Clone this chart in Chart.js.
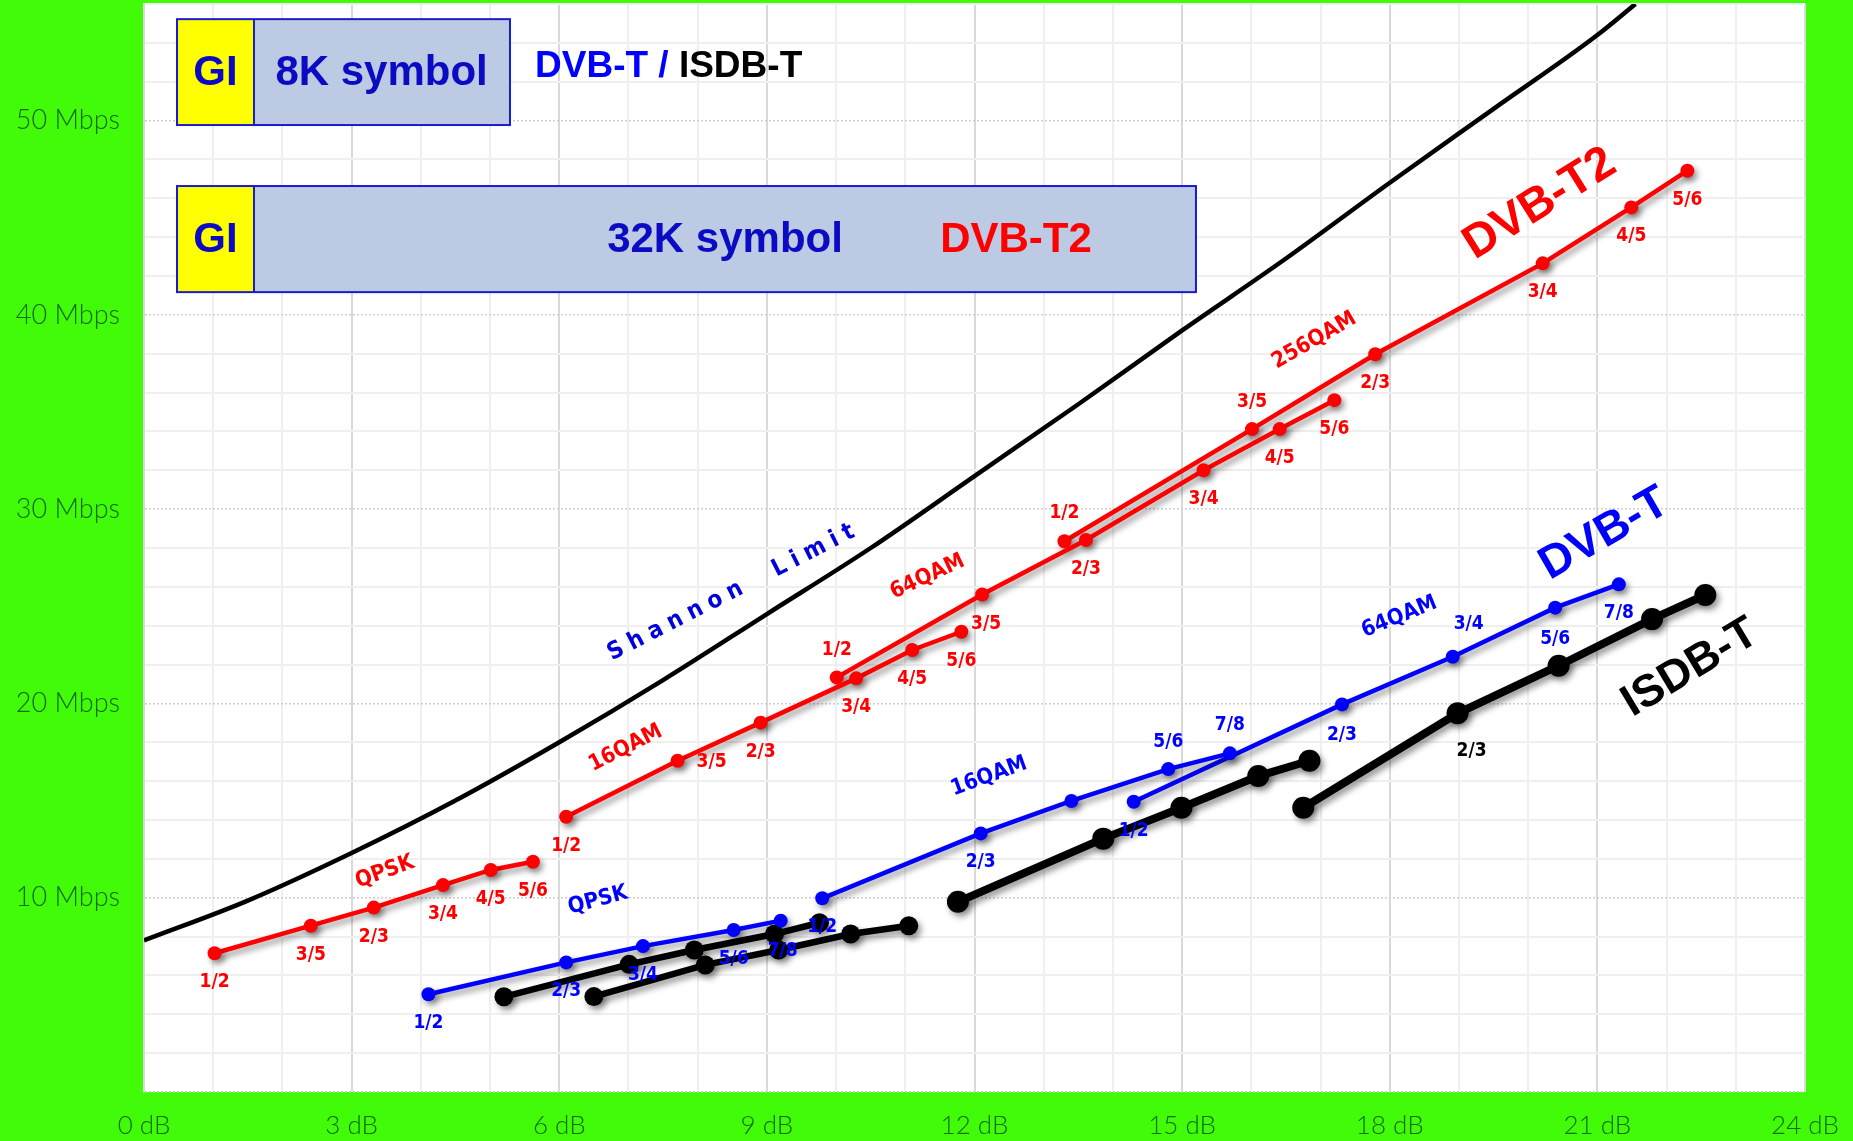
<!DOCTYPE html>
<html>
<head>
<meta charset="utf-8">
<title>DVB-T2 vs DVB-T / ISDB-T capacity</title>
<script src="https://cdn.jsdelivr.net/npm/chart.js@4.4.1/dist/chart.umd.min.js"></script>
<style>
  html, body { margin: 0; padding: 0; background: #41fb09; }
  #wrap { width: 1853px; height: 1141px; }
  canvas { display: block; }
</style>
</head>
<body>
<div id="wrap"><canvas id="chart" width="1853" height="1141"></canvas></div>
<script>
// ---- Data: required C/N (dB) and resulting bit rate (Mbps) ----

// Shannon capacity curve
const shannonSnr  = [0, 1.5, 3, 4.5, 6, 7.5, 9, 10.5, 12, 13.5, 15, 16.5, 18, 19.5, 21, 21.55];
const shannonRate = [7.8, 9.85, 12.3, 15.0, 18.0, 21.2, 24.6, 28.0, 31.7, 35.4, 39.2, 42.9, 46.8, 50.6, 54.4, 56.0];

// DVB-T2 (32K symbol)
const t2CodeRates  = ['1/2', '3/5', '2/3', '3/4', '4/5', '5/6'];
const t2QpskSnr    = [1.02, 2.41, 3.32, 4.32, 5.01, 5.62];
const t2QpskRate   = [7.14, 8.56, 9.49, 10.65, 11.43, 11.85];
const t2Qam16Snr   = [6.10, 7.71, 8.91, 10.29, 11.10, 11.81];
const t2Qam16Rate  = [14.17, 17.05, 19.01, 21.29, 22.75, 23.69];
const t2Qam64Snr   = [10.01, 12.11, 13.61, 15.31, 16.41, 17.20];
const t2Qam64Rate  = [21.34, 25.61, 28.41, 32.00, 34.12, 35.61];
const t2Qam256Snr  = [13.30, 16.01, 17.79, 20.21, 21.49, 22.30];
const t2Qam256Rate = [28.35, 34.12, 37.97, 42.65, 45.53, 47.42];

// DVB-T (8K symbol)
const dvbtCodeRates  = ['1/2', '2/3', '3/4', '5/6', '7/8'];
const dvbtQam16Codes = ['1/2', '2/3', '', '5/6', '7/8'];
const dvbtQpskSnr    = [4.11, 6.10, 7.21, 8.52, 9.20];
const dvbtQpskRate   = [5.03, 6.67, 7.51, 8.34, 8.82];
const dvbtQam16Snr   = [9.80, 12.09, 13.40, 14.80, 15.69];
const dvbtQam16Rate  = [9.97, 13.31, 14.98, 16.62, 17.43];
const dvbtQam64Snr   = [14.30, 17.31, 18.91, 20.39, 21.31];
const dvbtQam64Rate  = [14.94, 19.95, 22.40, 24.93, 26.13];

// ISDB-T
const isdbQpskASnr  = [5.20, 7.01, 7.95, 9.11, 9.76];
const isdbQpskARate = [4.90, 6.57, 7.31, 8.13, 8.71];
const isdbQpskBSnr  = [6.50, 8.11, 9.17, 10.21, 11.05];
const isdbQpskBRate = [4.91, 6.54, 7.31, 8.13, 8.56];
const isdbQam16Snr  = [11.76, 13.86, 14.99, 16.10, 16.84];
const isdbQam16Rate = [9.79, 13.04, 14.63, 16.26, 17.05];
const isdbQam64Snr  = [16.75, 18.98, 20.44, 21.79, 22.56];
const isdbQam64Rate = [14.63, 19.49, 21.94, 24.34, 25.58];
const isdbQam64Codes = ['', '2/3', '', '', ''];

// Axis ticks
const xTickStepDb = 1;
const xLabelEveryDb = 3;
const yTickStepMbps = 2;
const yLabelEveryMbps = 10;

// ---- Styling ----
const RED = '#ff0000';
const BLUE = '#0000ff';
const NAVY = '#0b0bc4';
const BLACK = '#000000';
const TICK_GREEN = '#0f6a12';
const tickFamily = "Lato, 'DejaVu Sans', sans-serif";
const labelFamily = "'Liberation Sans Narrow', 'DejaVu Sans Condensed', 'Open Sans', sans-serif";
const titleFamily = "'Liberation Sans', Arial, sans-serif";

// Placement of code-rate labels relative to their point (pixels)
const below = [0, 29];
const labelOffsets = {
  t2Qpsk:   [below, below, below, below, below, below],
  t2Qam16:  [below, [34, 1], below, below, below, below],
  t2Qam64:  [[0, -27], [4, 30], below, below, below, below],
  t2Qam256: [[0, -28], [0, -27], below, below, below, below],
  dvbtQpsk: [below, below, below, below, [2, 30]],
  dvbtQam16:[below, below, below, [0, -27], [0, -28]],
  dvbtQam64:[below, [0, 31], [16, -33], [0, 31], below],
  isdbQam64:[below, [14, 38], below, below, below]
};

function points(xs, ys) { return xs.map((x, i) => ({ x: x, y: ys[i] })); }

function curve(id, xs, ys, color, width, radius, codes, extra) {
  return Object.assign({
    label: id,
    data: points(xs, ys),
    showLine: true,
    borderColor: color,
    backgroundColor: color,
    borderWidth: width,
    pointRadius: radius,
    pointHoverRadius: radius,
    pointBorderWidth: 0,
    dropShadow: true,
    codeLabels: codes,
    labelKey: id
  }, extra || {});
}

const datasets = [
  curve('t2Qpsk', t2QpskSnr, t2QpskRate, RED, 4.5, 7, t2CodeRates),
  curve('t2Qam16', t2Qam16Snr, t2Qam16Rate, RED, 4.5, 7, t2CodeRates),
  curve('t2Qam64', t2Qam64Snr, t2Qam64Rate, RED, 4.5, 7, t2CodeRates),
  curve('t2Qam256', t2Qam256Snr, t2Qam256Rate, RED, 4.5, 7, t2CodeRates),
  curve('dvbtQpsk', dvbtQpskSnr, dvbtQpskRate, BLUE, 4.5, 7, dvbtCodeRates),
  curve('dvbtQam16', dvbtQam16Snr, dvbtQam16Rate, BLUE, 4.5, 7, dvbtQam16Codes),
  curve('dvbtQam64', dvbtQam64Snr, dvbtQam64Rate, BLUE, 4.5, 7, dvbtCodeRates),
  curve('isdbQpskA', isdbQpskASnr, isdbQpskARate, BLACK, 6.5, 9.5, null),
  curve('isdbQpskB', isdbQpskBSnr, isdbQpskBRate, BLACK, 6.5, 9.5, null),
  curve('isdbQam16', isdbQam16Snr, isdbQam16Rate, BLACK, 8, 11, null),
  curve('isdbQam64', isdbQam64Snr, isdbQam64Rate, BLACK, 8, 11, isdbQam64Codes),
  curve('shannon', shannonSnr, shannonRate, BLACK, 4.5, 0, null,
        { dropShadow: false, cubicInterpolationMode: 'monotone' })
];

// Text placed in data units (dB, Mbps)
const modulationNotes = [
  { text: 'QPSK',   x: 3.48,  y: 11.32, angle: -20, color: RED },
  { text: '16QAM',  x: 6.96,  y: 17.70, angle: -27, color: RED },
  { text: '64QAM',  x: 11.32, y: 26.52, angle: -25, color: RED },
  { text: '256QAM', x: 16.91, y: 38.68, angle: -30, color: RED },
  { text: 'QPSK',   x: 6.56,  y: 9.86,  angle: -15, color: BLUE },
  { text: '16QAM',  x: 12.21, y: 16.24, angle: -20, color: BLUE },
  { text: '64QAM',  x: 18.14, y: 24.45, angle: -22, color: BLUE }
];
const systemTitles = [
  { text: 'DVB-T2', x: 20.17, y: 45.70, angle: -32, color: RED, size: 47 },
  { text: 'DVB-T',  x: 21.10, y: 28.72, angle: -30, color: BLUE, size: 46 },
  { text: 'ISDB-T', x: 22.34, y: 21.82, angle: -31, color: BLACK, size: 45 }
];
const shannonNote = { text: 'Shannon  Limit', x: 8.53, y: 25.78, angle: -27, color: '#0000dd' };

const symbolBoxes = [
  { left: 0.477, guard: 1.589, right: 5.288, top: 55.22, bottom: 49.77,
    body: [{ text: '8K symbol', x: 3.433, color: NAVY }] },
  { left: 0.477, guard: 1.589, right: 15.20, top: 46.63, bottom: 41.17,
    body: [{ text: '32K symbol', x: 8.395, color: NAVY }, { text: 'DVB-T2', x: 12.60, color: RED }] }
];
const systemKey = { x: 5.65, y: 52.75 };

// ---- Plugins ----
const plotBackground = {
  id: 'plotBackground',
  beforeDraw(chart) {
    const { ctx, chartArea: a } = chart;
    ctx.save();
    ctx.fillStyle = '#ffffff';
    ctx.fillRect(a.left, a.top, a.right - a.left, a.bottom - a.top);
    ctx.restore();
  }
};

const lineShadow = {
  id: 'lineShadow',
  beforeDatasetDraw(chart, args) {
    if (!chart.data.datasets[args.index].dropShadow) return;
    const ctx = chart.ctx;
    ctx.save();
    ctx.shadowColor = 'rgba(0,0,0,0.42)';
    ctx.shadowBlur = 6;
    ctx.shadowOffsetX = 3;
    ctx.shadowOffsetY = 4;
  },
  afterDatasetDraw(chart, args) {
    if (chart.data.datasets[args.index].dropShadow) chart.ctx.restore();
  }
};

function rotatedText(ctx, text, px, py, angle, font, color, spacing) {
  ctx.save();
  ctx.translate(px, py);
  ctx.rotate(angle * Math.PI / 180);
  ctx.font = font;
  ctx.fillStyle = color;
  ctx.textAlign = 'center';
  ctx.textBaseline = 'middle';
  if (spacing) ctx.letterSpacing = spacing;
  ctx.fillText(text, 0, 0);
  ctx.restore();
}

const annotations = {
  id: 'annotations',
  afterDatasetsDraw(chart) {
    const ctx = chart.ctx;
    const xs = chart.scales.x, ys = chart.scales.y;
    const X = v => xs.getPixelForValue(v), Y = v => ys.getPixelForValue(v);

    // code-rate labels next to each point
    chart.data.datasets.forEach(ds => {
      if (!ds.codeLabels) return;
      const offs = labelOffsets[ds.labelKey];
      ds.data.forEach((p, i) => {
        const t = ds.codeLabels[i];
        if (!t) return;
        const o = offs[i];
        ctx.save();
        ctx.font = '700 19px ' + labelFamily;
        ctx.fillStyle = ds.borderColor;
        ctx.textAlign = 'center';
        ctx.textBaseline = 'middle';
        ctx.fillText(t, X(p.x) + o[0], Y(p.y) + o[1]);
        ctx.restore();
      });
    });

    modulationNotes.forEach(n =>
      rotatedText(ctx, n.text, X(n.x), Y(n.y), n.angle, '700 22px ' + labelFamily, n.color));
    systemTitles.forEach(n =>
      rotatedText(ctx, n.text, X(n.x), Y(n.y), n.angle, 'bold ' + n.size + 'px ' + titleFamily, n.color));
    rotatedText(ctx, shannonNote.text, X(shannonNote.x), Y(shannonNote.y), shannonNote.angle,
      '700 24px ' + labelFamily, shannonNote.color, '7px');

    // guard interval + symbol boxes
    symbolBoxes.forEach(b => {
      const l = X(b.left), g = X(b.guard), r = X(b.right), t = Y(b.top), btm = Y(b.bottom);
      ctx.save();
      ctx.fillStyle = '#ffff00';
      ctx.fillRect(l, t, g - l, btm - t);
      ctx.fillStyle = '#bccbe3';
      ctx.fillRect(g, t, r - g, btm - t);
      ctx.strokeStyle = '#1a1ad0';
      ctx.lineWidth = 2;
      ctx.strokeRect(l, t, r - l, btm - t);
      ctx.beginPath();
      ctx.moveTo(g, t); ctx.lineTo(g, btm);
      ctx.stroke();
      const cy = (t + btm) / 2 + 1;
      ctx.font = 'bold 42px ' + titleFamily;
      ctx.textAlign = 'center';
      ctx.textBaseline = 'middle';
      ctx.fillStyle = NAVY;
      ctx.fillText('GI', (l + g) / 2, cy);
      b.body.forEach(s => {
        ctx.fillStyle = s.color;
        ctx.fillText(s.text, X(s.x), cy);
      });
      ctx.restore();
    });

    // system key beside the 8K box
    ctx.save();
    ctx.font = 'bold 37px ' + titleFamily;
    ctx.textAlign = 'left';
    ctx.textBaseline = 'middle';
    const kx = X(systemKey.x), ky = Y(systemKey.y);
    const part1 = 'DVB-T / ';
    ctx.fillStyle = BLUE;
    ctx.fillText(part1, kx, ky);
    ctx.fillStyle = BLACK;
    ctx.fillText('ISDB-T', kx + ctx.measureText(part1).width, ky);
    ctx.restore();
  }
};

new Chart(document.getElementById('chart'), {
  type: 'scatter',
  data: { datasets: datasets },
  options: {
    responsive: false,
    devicePixelRatio: 1,
    animation: false,
    events: [],
    layout: { autoPadding: false, padding: { top: 4, right: 48, left: 0, bottom: 0 } },
    plugins: { legend: { display: false }, tooltip: { enabled: false } },
    scales: {
      x: {
        type: 'linear', min: 0, max: 24,
        afterFit: s => { s.height = 49; s.paddingLeft = 0; s.paddingRight = 0; },
        ticks: {
          stepSize: xTickStepDb, autoSkip: false, maxRotation: 0, padding: 18,
          color: TICK_GREEN, font: { family: tickFamily, size: 26, weight: 300 },
          callback: v => (v % xLabelEveryDb === 0 ? v + ' dB' : '')
        },
        grid: {
          drawTicks: false, lineWidth: 2,
          color: c => (c.tick && c.tick.value % xLabelEveryDb === 0 ? '#d9d9d9' : '#efefef')
        },
        border: { display: false }
      },
      y: {
        type: 'linear', min: 0, max: 56,
        afterFit: s => { s.width = 144; s.paddingTop = 0; s.paddingBottom = 0; },
        ticks: {
          stepSize: yTickStepMbps, autoSkip: false, padding: 24,
          color: TICK_GREEN, font: { family: tickFamily, size: 27, weight: 300 },
          callback: v => (v % yLabelEveryMbps === 0 && v > 0 ? v + ' Mbps' : '')
        },
        grid: {
          drawTicks: false,
          lineWidth: c => (c.tick && c.tick.value % yLabelEveryMbps === 0 ? 1.5 : 2),
          color: c => (c.tick && c.tick.value % yLabelEveryMbps === 0 ? '#cfcfcf' : '#efefef')
        },
        border: {
          display: true, color: '#d9d9d9', width: 2,
          dash: c => (c.tick && c.tick.value % yLabelEveryMbps === 0 ? [2, 2] : [])
        }
      }
    }
  },
  plugins: [plotBackground, lineShadow, annotations]
});
</script>
</body>
</html>
